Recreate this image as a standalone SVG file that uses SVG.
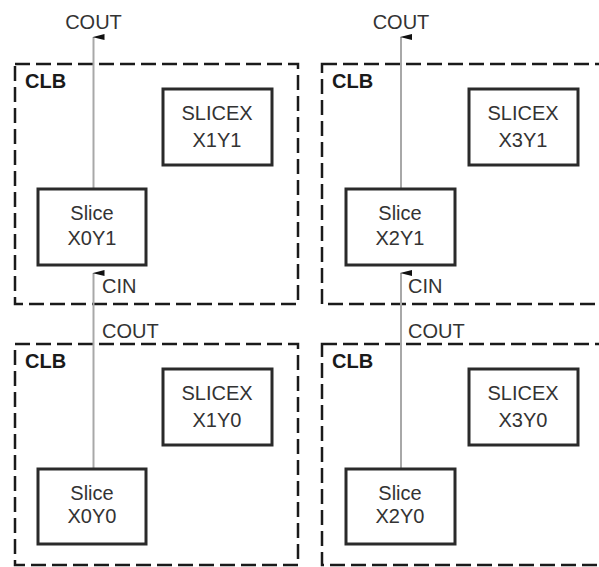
<svg xmlns="http://www.w3.org/2000/svg" width="599" height="567" viewBox="0 0 599 567">
  <defs>
    <marker id="arrow" viewBox="0 0 6 12" refX="3" refY="1" markerWidth="6" markerHeight="12" markerUnits="userSpaceOnUse" orient="auto-start-reverse">
      <path d="M3 0 L6 12 L0 12 Z" fill="#111"/>
    </marker>
    <style>
      .clb { fill: none; stroke: #1a1a1a; stroke-width: 2.5; stroke-dasharray: 15 6; }
      .box { fill: #fff; stroke: #2a2a2a; stroke-width: 3; }
      .wire { fill: none; stroke: #a8a8a8; stroke-width: 2; }
      text { font-family: "Liberation Sans", Arial, sans-serif; font-size: 20px; fill: #333; }
      .c { text-anchor: middle; }
      .bold { font-weight: bold; fill: #1a1a1a; }
    </style>
  </defs>
  <rect width="599" height="567" fill="#fff"/>

  <!-- CLB outlines -->
  <g id="clb-x0y1"><rect class="clb" x="15" y="64" width="283" height="240"/><text class="bold" x="25" y="88">CLB</text></g>
  <g id="clb-x1y1"><rect class="clb" x="322" y="64" width="300" height="240"/><text class="bold" x="332" y="88">CLB</text></g>
  <g id="clb-x0y0"><rect class="clb" x="15" y="344" width="283" height="221"/><text class="bold" x="25" y="368">CLB</text></g>
  <g id="clb-x1y0"><rect class="clb" x="322" y="344" width="300" height="221"/><text class="bold" x="332" y="368">CLB</text></g>

  <!-- carry chain connectors -->
  <g id="connectors">
    <line class="wire" x1="93.5" y1="189" x2="93.5" y2="37" marker-end="url(#arrow)"/>
    <line class="wire" x1="93.5" y1="469" x2="93.5" y2="273" marker-end="url(#arrow)"/>
    <line class="wire" x1="401" y1="189" x2="401" y2="37" marker-end="url(#arrow)"/>
    <line class="wire" x1="401" y1="469" x2="401" y2="273" marker-end="url(#arrow)"/>
    <text class="c" x="93.5" y="29">COUT</text>
    <text class="c" x="401" y="29">COUT</text>
    <text x="102" y="293">CIN</text>
    <text x="408" y="293">CIN</text>
    <text x="102" y="338">COUT</text>
    <text x="408" y="338">COUT</text>
  </g>

  <!-- slices -->
  <g id="slice-x0y1"><rect class="box" x="38" y="189" width="108" height="76"/><text class="c" x="92" y="220">Slice</text><text class="c" x="92" y="245">X0Y1</text></g>
  <g id="slicex-x1y1"><rect class="box" x="163" y="89" width="109" height="76"/><text class="c" x="217" y="120">SLICEX</text><text class="c" x="217" y="147">X1Y1</text></g>
  <g id="slice-x2y1"><rect class="box" x="346" y="189" width="109" height="76"/><text class="c" x="400" y="220">Slice</text><text class="c" x="400" y="245">X2Y1</text></g>
  <g id="slicex-x3y1"><rect class="box" x="469" y="89" width="109" height="76"/><text class="c" x="523" y="120">SLICEX</text><text class="c" x="523" y="147">X3Y1</text></g>

  <g id="slice-x0y0"><rect class="box" x="38" y="469" width="108" height="75"/><text class="c" x="92" y="500">Slice</text><text class="c" x="92" y="523">X0Y0</text></g>
  <g id="slicex-x1y0"><rect class="box" x="163" y="369" width="109" height="76"/><text class="c" x="217" y="400">SLICEX</text><text class="c" x="217" y="427">X1Y0</text></g>
  <g id="slice-x2y0"><rect class="box" x="346" y="469" width="109" height="75"/><text class="c" x="400" y="500">Slice</text><text class="c" x="400" y="523">X2Y0</text></g>
  <g id="slicex-x3y0"><rect class="box" x="469" y="369" width="109" height="76"/><text class="c" x="523" y="400">SLICEX</text><text class="c" x="523" y="427">X3Y0</text></g>
</svg>
